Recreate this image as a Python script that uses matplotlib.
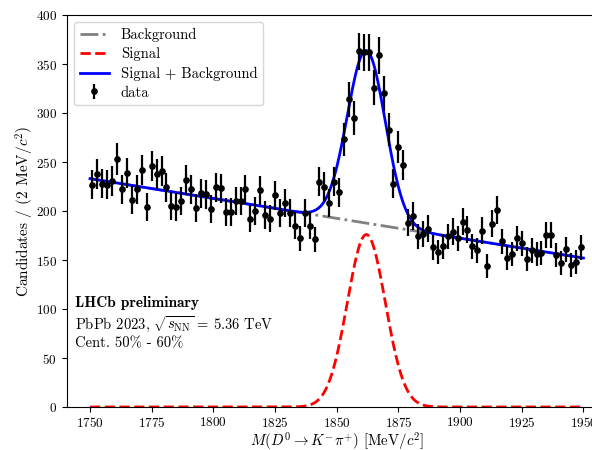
import numpy as np
import matplotlib
matplotlib.use("Agg")
import matplotlib.pyplot as plt

plt.rcParams['font.family'] = ['cmr10', 'DejaVu Serif']
plt.rcParams['mathtext.fontset'] = 'cm'
plt.rcParams['axes.formatter.use_mathtext'] = True

# ---- data ----
bin_width = 2.0
mass_lo = 1750.0
counts = [227, 238, 228, 227, 231, 253, 222, 239, 211, 222,
          242, 204, 246, 238, 241, 224, 205, 204, 210, 232,
          222, 203, 218, 217, 202, 224, 223, 199, 199, 210,
          210, 222, 192, 200, 221, 196, 192, 216, 198, 208,
          198, 185, 172, 198, 185, 171, 230, 225, 208, 230,
          219, 273, 314, 295, 363, 362, 362, 326, 359, 320,
          283, 228, 265, 247, 188, 195, 174, 177, 182, 163,
          158, 164, 174, 179, 172, 189, 181, 164, 160, 180,
          144, 187, 201, 169, 152, 156, 172, 167, 151, 160,
          156, 157, 176, 176, 155, 147, 161, 145, 148, 163]
centers = mass_lo + bin_width * (np.arange(len(counts)) + 0.5)
errors = np.sqrt(counts)

# fit model parameters
bkg_at_1750 = 233.0
bkg_at_1950 = 152.0
sig_amp = 176.0
sig_mean = 1862.0
sig_sigma = 7.7

xfit = np.linspace(1750, 1950, 800)
bkg = bkg_at_1750 + (bkg_at_1950 - bkg_at_1750) * (xfit - 1750) / 200.0
sig = sig_amp * np.exp(-0.5 * ((xfit - sig_mean) / sig_sigma) ** 2)

W, H = 592, 450
fig = plt.figure(figsize=(W / 100, H / 100), dpi=100)
ax = fig.add_axes([66.7 / W, 1 - 407 / H, (608.1 - 66.7) / W, (407 - 15) / H])

ax.plot(xfit, bkg, color='gray', ls='-.', lw=2, label='Background', zorder=2)
ax.plot(xfit, sig, color='red', ls='--', lw=2, label='Signal', zorder=2)
ax.plot(xfit, sig + bkg, color='blue', lw=2, label='Signal + Background', zorder=3)
ax.errorbar(centers, counts, yerr=errors, fmt='o', color='black', ms=3.8,
            elinewidth=1.6, capsize=0, label='data', zorder=4)

ax.set_xlim(1740.55, 1960)
ax.set_ylim(0, 400)
ax.set_xticks([1750, 1775, 1800, 1825, 1850, 1875, 1900, 1925, 1950])
ax.set_yticks([0, 50, 100, 150, 200, 250, 300, 350, 400])
ax.tick_params(labelsize=9.5, direction='out')
ax.tick_params(axis='x', pad=2.8)

ax.set_xlabel(r'$M(D^0 \to K^{-}\pi^{+})$ [MeV/$c^2$]', fontsize=10.7, labelpad=0)
ax.set_ylabel(r'Candidates / (2 MeV/$c^2$)', fontsize=11, labelpad=0)

ax.legend(loc='upper left', fontsize=10.5, frameon=True, framealpha=0.8,
          borderpad=0.4, handlelength=2.0, labelspacing=0.35)

tx = (75 - 66.7) / (608.1 - 66.7)
ax.text(tx, (407 - 303) / 392, 'LHCb preliminary', transform=ax.transAxes,
        fontsize=11, family=['cmb10', 'DejaVu Serif'], va='center', ha='left')
ax.text(tx, (407 - 324) / 392, r'PbPb 2023, $\sqrt{s_{\rm NN}}$ = 5.36 TeV',
        transform=ax.transAxes, fontsize=10.5, va='center', ha='left')
ax.text(tx, (407 - 343) / 392, 'Cent. 50% - 60%', transform=ax.transAxes,
        fontsize=10.5, va='center', ha='left')

fig.savefig('out.png', dpi=100)
